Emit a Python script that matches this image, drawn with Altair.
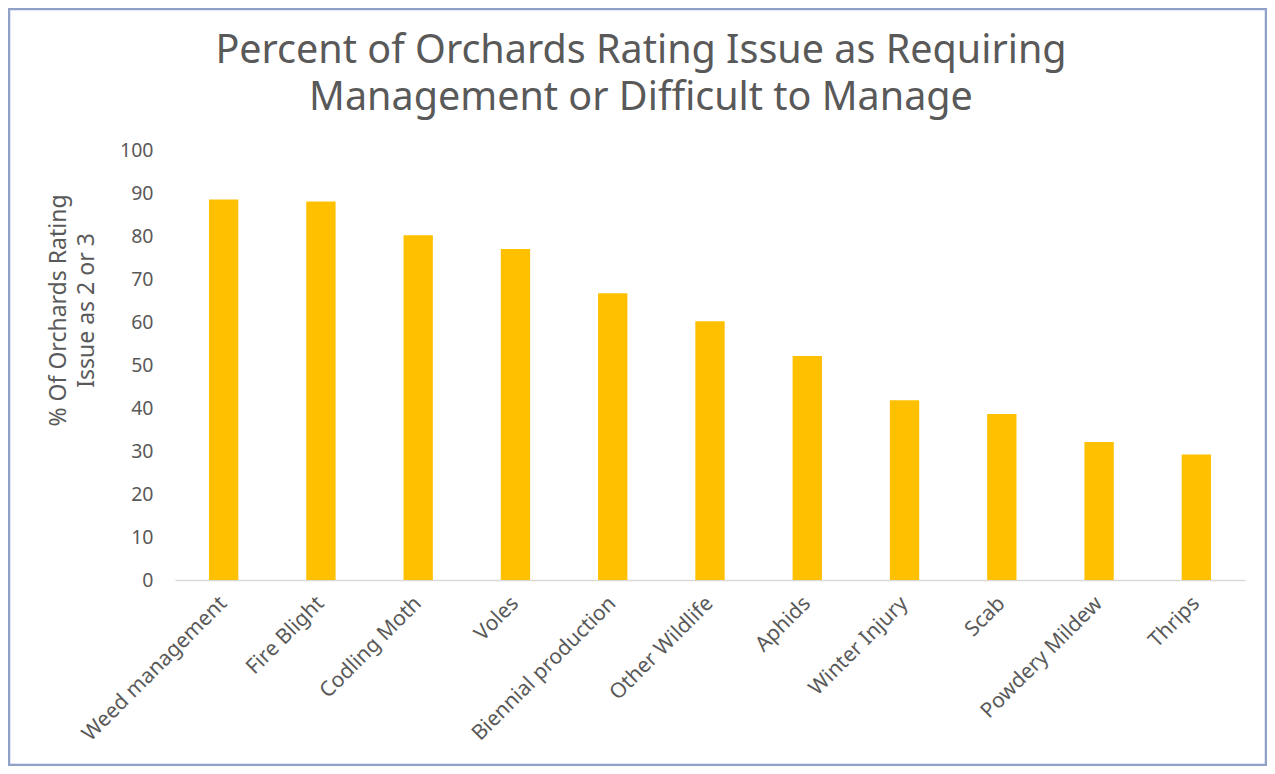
import altair as alt
import pandas as pd

categories = ["Weed management", "Fire Blight", "Codling Moth", "Voles", "Biennial production",
              "Other Wildlife", "Aphids", "Winter Injury", "Scab", "Powdery Mildew", "Thrips"]
values = [88.5, 88.0, 80.2, 77.0, 66.7, 60.2, 52.1, 41.8, 38.6, 32.1, 29.2]
y_ticks = list(range(0, 101, 10))
title_lines = ["Percent of Orchards Rating Issue as Requiring", "Management or Difficult to Manage"]

df = pd.DataFrame({"issue": categories, "pct": values})

W, H = 1070, 430
PL, PT, PR, PB = 167, 142, 22, 186
FONT = "Noto Sans"
GREY = "#595959"

bars = alt.Chart(df).mark_bar(color="#FFC000", width={"band": 0.335}).encode(
    x=alt.X("issue:N", sort=categories, title=None,
            axis=alt.Axis(labelAngle=-45, labelAlign="right", labelBaseline="middle",
                          labelFontSize=21, labelColor=GREY, labelFont=FONT, labelPadding=20,
                          ticks=False, domainColor="#D9D9D9", domainWidth=1.5,
                          labelLimit=400)),
    y=alt.Y("pct:Q", scale=alt.Scale(domain=[0, 100]),
            title=["% Of Orchards Rating", "Issue as 2 or 3"],
            axis=alt.Axis(values=y_ticks, grid=False, domain=False, ticks=False,
                          labelFontSize=19.5, labelColor=GREY, labelFont=FONT, labelPadding=22,
                          titleFontSize=23, titleColor=GREY, titleFont=FONT, titleFontWeight="normal",
                          titleX=-128, titleY=160, titleAngle=-90, titleAlign="center",
                          titleBaseline="top", titleLineHeight=28)),
)

border = alt.Chart(df.head(1)).mark_rect(fill=None, stroke="#8FA1C7", strokeWidth=2.5).encode(
    x=alt.value(-PL + 1), x2=alt.value(W + PR - 1),
    y=alt.value(-PT + 1), y2=alt.value(H + PB - 1),
)

title_layers = []
for line, ypos in zip(title_lines, [-99, -52]):
    title_layers.append(
        alt.Chart(pd.DataFrame({"line": [line]})).mark_text(
            font=FONT, fontSize=39.5, color=GREY, align="center", baseline="middle"
        ).encode(text="line:N", x=alt.value(466), y=alt.value(ypos))
    )

chart = alt.layer(border, bars, *title_layers).properties(
    width=W, height=H,
    padding={"left": PL, "top": PT, "right": PR, "bottom": PB},
    autosize=alt.AutoSizeParams(type="none"),
).configure_view(stroke=None)

chart.save("out.html", embed_options={"renderer": "svg", "actions": False})
